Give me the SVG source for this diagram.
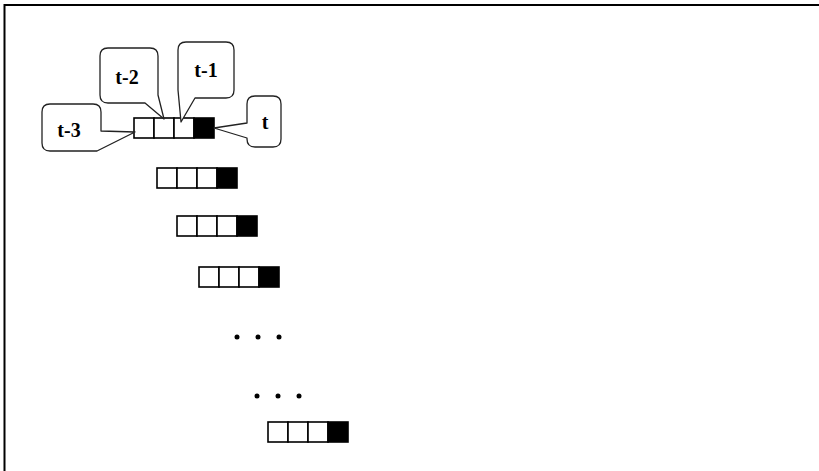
<svg xmlns="http://www.w3.org/2000/svg" width="819" height="471" viewBox="0 0 819 471">
  <style>
    .cell { fill: #ffffff; stroke: #000000; stroke-width: 1.6; }
    .cur { fill: #000000; stroke: #000000; stroke-width: 1.6; }
    .call { fill: #ffffff; stroke: #222222; stroke-width: 1.3; stroke-linejoin: round; }
    .lbl { font-family: "Liberation Serif", "Times New Roman", serif; font-weight: bold; font-size: 20px; fill: #000000; text-anchor: middle; }
    .dot { fill: #000000; }
  </style>
  <defs>
    <g id="win">
      <rect class="cell" x="0" y="0" width="20" height="20"/>
      <rect class="cell" x="20" y="0" width="20" height="20"/>
      <rect class="cell" x="40" y="0" width="20" height="20"/>
      <rect class="cur" x="60" y="0" width="20" height="20"/>
    </g>
  </defs>
  <rect x="0" y="0" width="819" height="471" fill="#ffffff"/>
  <path d="M 4.5 471 V 5 H 819" fill="none" stroke="#000000" stroke-width="2"/>

  <g id="row1"><use href="#win" x="134" y="118"/></g>
  <g id="row2"><use href="#win" x="157" y="168"/></g>
  <g id="row3"><use href="#win" x="177" y="216"/></g>
  <g id="row4"><use href="#win" x="199" y="267"/></g>
  <g id="dots1">
    <circle class="dot" cx="237" cy="337" r="2.5"/>
    <circle class="dot" cx="258" cy="337" r="2.5"/>
    <circle class="dot" cx="279" cy="337" r="2.5"/>
  </g>
  <g id="dots2">
    <circle class="dot" cx="257" cy="396" r="2.5"/>
    <circle class="dot" cx="278" cy="396" r="2.5"/>
    <circle class="dot" cx="299" cy="396" r="2.5"/>
  </g>
  <g id="row5"><use href="#win" x="268" y="422"/></g>

  <g id="callout-t3">
    <path class="call" d="M 50 104 H 93 Q 101 104 101 112 V 131 L 135 132 L 97 151 H 50 Q 42 151 42 143 V 112 Q 42 104 50 104 Z"/>
    <text class="lbl" x="69" y="137">t-3</text>
  </g>
  <g id="callout-t2">
    <path class="call" d="M 108 48 H 150 Q 158 48 158 56 V 95 L 164 119 L 145 103 H 108 Q 100 103 100 95 V 56 Q 100 48 108 48 Z"/>
    <text class="lbl" x="127" y="84">t-2</text>
  </g>
  <g id="callout-t1">
    <path class="call" d="M 186 42 H 226 Q 234 42 234 50 V 90 Q 234 98 226 98 H 195 L 181 122 L 178 90 V 50 Q 178 42 186 42 Z"/>
    <text class="lbl" x="206" y="77">t-1</text>
  </g>
  <g id="callout-t">
    <path class="call" d="M 255 96 H 273 Q 281 96 281 104 V 139 Q 281 147 273 147 H 255 Q 247 147 247 139 V 138 L 214 128 L 247 123 V 104 Q 247 96 255 96 Z"/>
    <text class="lbl" x="265" y="129">t</text>
  </g>
</svg>
